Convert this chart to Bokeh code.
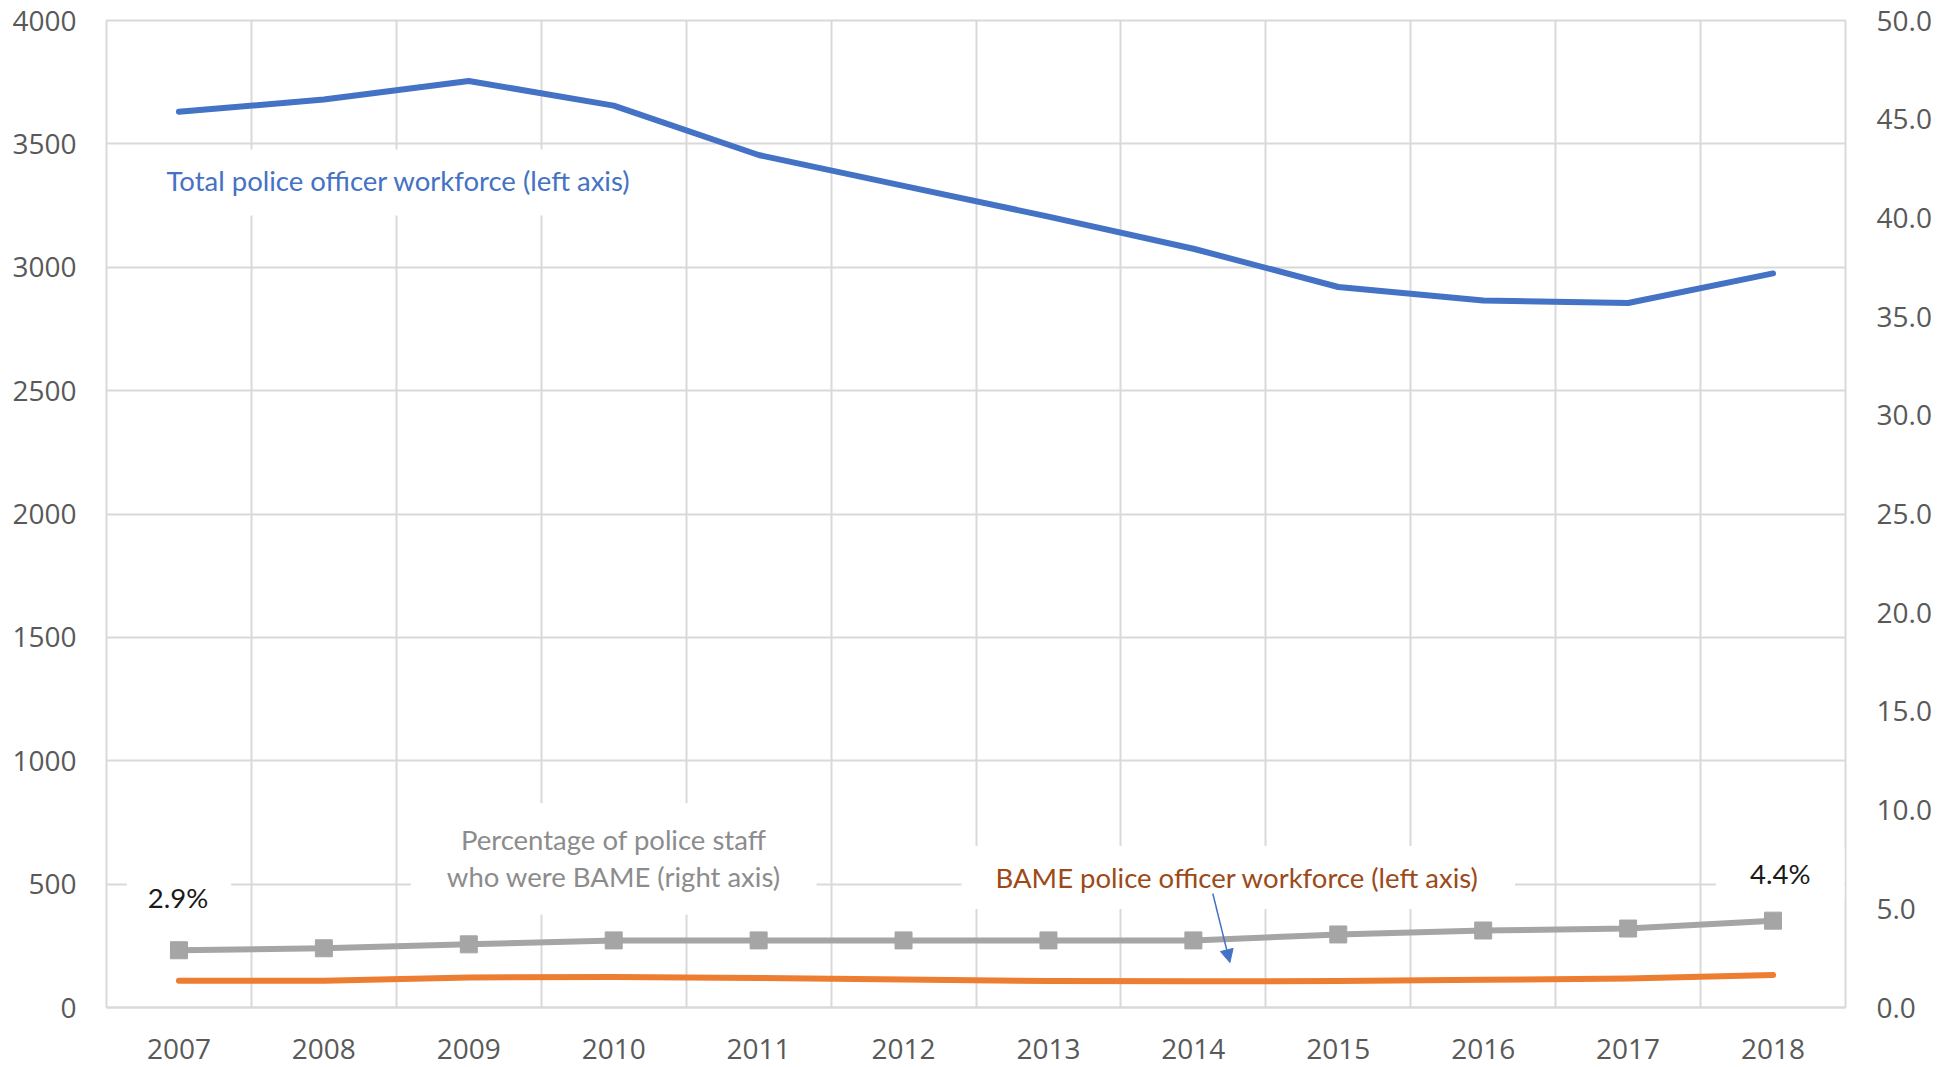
from bokeh.plotting import figure
from bokeh.models import (Range1d, LinearAxis, FixedTicker, NumeralTickFormatter,
                          Label, Arrow, NormalHead, ColumnDataSource)
from bokeh.embed import file_html
from bokeh.resources import INLINE

# ---- data ----
years = [2007, 2008, 2009, 2010, 2011, 2012, 2013, 2014, 2015, 2016, 2017, 2018]
year_labels = [str(y) for y in years]
total_officers = [3630, 3680, 3755, 3655, 3455, 3330, 3205, 3075, 2920, 2865, 2855, 2975]
bame_officers = [108, 108, 122, 124, 120, 113, 107, 106, 107, 112, 118, 132]
bame_staff_pct = [2.9, 3.0, 3.2, 3.4, 3.4, 3.4, 3.4, 3.4, 3.7, 3.9, 4.0, 4.4]
left_ticks = [0, 500, 1000, 1500, 2000, 2500, 3000, 3500, 4000]
right_ticks = [0, 5, 10, 15, 20, 25, 30, 35, 40, 45, 50]

BLUE = "#4472C4"
ORANGE = "#ED7D31"
GREY = "#A5A5A5"
GRID = "#D9D9D9"
TICK_TXT = "#595959"
AX_FONT = "Open Sans"
ANN_FONT = "Lato"
ANN_SIZE = "27.5px"

src = ColumnDataSource(dict(year=years, total=total_officers,
                            bame=bame_officers, pct=bame_staff_pct))

p = figure(width=1942, height=1067, output_backend="svg", toolbar_location=None,
           x_range=Range1d(years[0] - 0.5, years[-1] + 0.5),
           y_range=Range1d(left_ticks[0], left_ticks[-1]),
           min_border_left=106, min_border_right=97, min_border_top=20,
           min_border_bottom=60)
p.extra_y_ranges = {"pct": Range1d(right_ticks[0], right_ticks[-1])}
p.background_fill_color = "white"
p.border_fill_color = "white"
p.outline_line_color = GRID
p.outline_line_width = 2

# grid: horizontal at left ticks, vertical at category boundaries
p.ygrid.ticker = FixedTicker(ticks=left_ticks)
p.xgrid.ticker = FixedTicker(ticks=[y - 0.5 for y in years] + [years[-1] + 0.5])
for g in (p.xgrid, p.ygrid):
    g.grid_line_color = GRID
    g.grid_line_width = 2

# bottom axis
xa = p.xaxis[0]
xa.ticker = FixedTicker(ticks=years)
xa.major_label_overrides = {y: s for y, s in zip(years, year_labels)}
xa.axis_line_color = GRID
xa.axis_line_width = 2
xa.major_tick_line_color = None
xa.minor_tick_line_color = None
xa.major_tick_out = 0
xa.major_tick_in = 0
xa.minor_tick_out = 0
xa.major_label_standoff = 31
xa.major_label_text_font = AX_FONT
xa.major_label_text_font_size = "28px"
xa.major_label_text_color = TICK_TXT

# left axis
ya = p.yaxis[0]
ya.ticker = FixedTicker(ticks=left_ticks)
ya.axis_line_color = None
ya.major_tick_line_color = None
ya.minor_tick_line_color = None
ya.major_tick_out = 0
ya.major_tick_in = 0
ya.minor_tick_out = 0
ya.major_label_standoff = 30
ya.major_label_text_font = AX_FONT
ya.major_label_text_font_size = "28px"
ya.major_label_text_color = TICK_TXT

# right axis
ra = LinearAxis(y_range_name="pct", ticker=FixedTicker(ticks=right_ticks),
                formatter=NumeralTickFormatter(format="0.0"))
ra.axis_line_color = None
ra.major_tick_line_color = None
ra.minor_tick_line_color = None
ra.major_tick_out = 0
ra.major_tick_in = 0
ra.minor_tick_out = 0
ra.major_label_standoff = 31
ra.major_label_text_font = AX_FONT
ra.major_label_text_font_size = "28px"
ra.major_label_text_color = TICK_TXT
p.add_layout(ra, "right")

# series
p.line("year", "total", source=src, line_color=BLUE, line_width=6,
       line_join="round", line_cap="round")
p.line("year", "bame", source=src, line_color=ORANGE, line_width=6,
       line_join="round", line_cap="round")
p.line("year", "pct", source=src, y_range_name="pct", line_color=GREY,
       line_width=6, line_join="round")
p.scatter("year", "pct", source=src, y_range_name="pct", marker="square",
          size=17, fill_color=GREY, line_color=GREY)

# annotations (text boxes with white background, as in the original)
def box(text, x, y, color, align, pad, line_height=1.2):
    return Label(x=x, y=y, text=text, text_font=ANN_FONT, text_font_size=ANN_SIZE,
                 text_color=color, text_align=align, text_baseline="middle",
                 background_fill_color="white", padding=pad,
                 text_line_height=line_height)

p.add_layout(box("Total police officer workforce (left axis)", 2006.679, 3343,
                 "#4472C4", "left", dict(left=34, right=36, top=14, bottom=19)))
p.add_layout(box("Percentage of police staff\nwho were BAME (right axis)", 2010.0, 602,
                 "#8C8C8C", "center", dict(left=36, right=36, top=20, bottom=22),
                 line_height=1.1))
p.add_layout(box("BAME police officer workforce (left axis)", 2014.31, 527,
                 "#9C4A18", "center", dict(left=34, right=36, top=15, bottom=15)))
p.add_layout(box("2.9%", 2007.0, 447, "#1A1A1A", "center",
                 dict(left=21, right=23, top=8, bottom=8)))
p.add_layout(box("4.4%", 2018.05, 543, "#1A1A1A", "center",
                 dict(left=34, right=34, top=8, bottom=8)))

p.add_layout(Arrow(x_start=2014.134, y_start=462, x_end=2014.252, y_end=182,
                   line_color=BLUE, line_width=1.5,
                   end=NormalHead(size=13, fill_color=BLUE, line_color=BLUE)))

open("out.html", "w").write(file_html(p, INLINE))
